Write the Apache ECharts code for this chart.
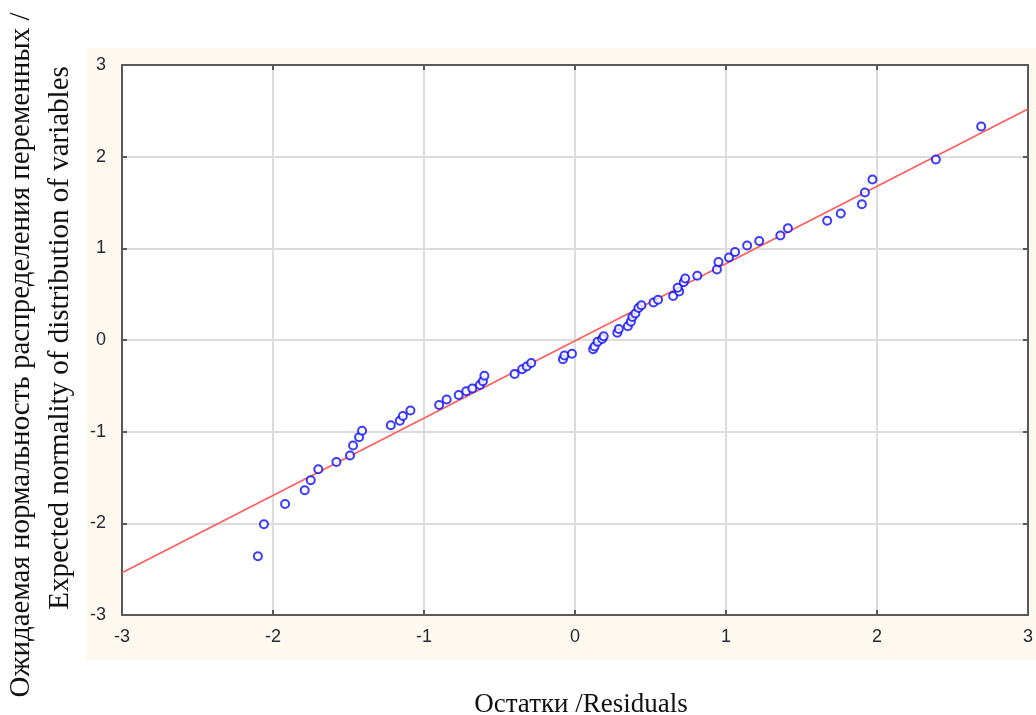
<!DOCTYPE html>
<html>
<head>
<meta charset="utf-8">
<script src="https://cdn.jsdelivr.net/npm/echarts@6/dist/echarts.min.js"></script>
<style>
  html, body { margin: 0; padding: 0; background: #ffffff; }
  #chart { width: 1036px; height: 715px; }
</style>
</head>
<body>
<div id="chart"></div>
<script>
// Normal probability plot of residuals
const residuals = [
  -2.10, -2.06, -1.92, -1.79, -1.75, -1.70, -1.58, -1.49, -1.47, -1.43,
  -1.41, -1.22, -1.16, -1.14, -1.09, -0.90, -0.85, -0.77, -0.72, -0.68,
  -0.63, -0.61, -0.60, -0.40, -0.35, -0.32, -0.29, -0.08, -0.07, -0.02,
   0.12,  0.13,  0.15,  0.18,  0.19,  0.28,  0.29,  0.35,  0.37,  0.38,
   0.40,  0.42,  0.44,  0.52,  0.55,  0.65,  0.69,  0.68,  0.72,  0.73,
   0.81,  0.94,  0.95,  1.02,  1.06,  1.14,  1.22,  1.36,  1.41,  1.67,
   1.76,  1.90,  1.92,  1.97,  2.39,  2.69
];
const expectedNormal = [
  -2.36, -2.01, -1.79, -1.64, -1.53, -1.41, -1.33, -1.26, -1.15, -1.06,
  -0.99, -0.93, -0.88, -0.83, -0.77, -0.71, -0.65, -0.60, -0.56, -0.53,
  -0.49, -0.45, -0.39, -0.37, -0.32, -0.29, -0.25, -0.21, -0.17, -0.15,
  -0.10, -0.07, -0.02,  0.01,  0.04,  0.08,  0.12,  0.15,  0.20,  0.25,
   0.29,  0.35,  0.38,  0.41,  0.44,  0.48,  0.53,  0.57,  0.63,  0.67,
   0.70,  0.77,  0.85,  0.90,  0.96,  1.03,  1.08,  1.14,  1.22,  1.30,
   1.38,  1.48,  1.61,  1.75,  1.97,  2.33
];
// Reference line end points
const fitLineX = [-3, 3];
const fitLineY = [-2.54, 2.52];
const axisTicks = [-3, -2, -1, 0, 1, 2, 3];

const xAxisTitle = 'Остатки /Residuals';
const yAxisTitleRu = 'Ожидаемая нормальность распределения переменных /';
const yAxisTitleEn = 'Expected normality of distribution of variables';

const points = residuals.map((x, i) => [x, expectedNormal[i]]);
const linePts = fitLineX.map((x, i) => [x, fitLineY[i]]);

const labelFont = { fontFamily: 'Liberation Sans, Arial, sans-serif', fontSize: 18, color: '#262a38' };
const titleFont = 'Liberation Serif, Times New Roman, serif';

const chart = echarts.init(document.getElementById('chart'), null, { renderer: 'canvas' });

const valueAxisBase = {
  type: 'value',
  min: axisTicks[0],
  max: axisTicks[axisTicks.length - 1],
  interval: 1,
  axisLine: { show: true, onZero: false, lineStyle: { color: '#595959', width: 2 } },
  axisTick: { show: true, inside: true, length: 5, lineStyle: { color: '#595959', width: 2 } },
  splitLine: { show: true, lineStyle: { color: '#dcdcdc', width: 2 } }
};

chart.setOption({
  backgroundColor: '#ffffff',
  animation: false,
  graphic: [
    {
      type: 'rect', z: -10, silent: true,
      shape: { x: 86, y: 48, width: 950, height: 612 },
      style: { fill: '#fdf9ee' }
    },
    {
      type: 'text', x: 581, y: 705,
      style: { text: xAxisTitle, font: '27px ' + titleFont, fill: '#111', textAlign: 'center', textVerticalAlign: 'middle' }
    },
    {
      type: 'text', rotation: Math.PI / 2, x: 21, y: 355,
      style: { text: yAxisTitleRu, font: '29px ' + titleFont, fill: '#111', textAlign: 'center', textVerticalAlign: 'middle' }
    },
    {
      type: 'text', rotation: Math.PI / 2, x: 60, y: 338,
      style: { text: yAxisTitleEn, font: '29px ' + titleFont, fill: '#111', textAlign: 'center', textVerticalAlign: 'middle' }
    }
  ],
  grid: {
    left: 122, right: 7, top: 65, bottom: 100,
    show: true, backgroundColor: '#ffffff', borderWidth: 0
  },
  xAxis: [
    Object.assign({}, valueAxisBase, {
      position: 'bottom',
      axisLabel: Object.assign({ margin: 13 }, labelFont)
    }),
    Object.assign({}, valueAxisBase, {
      position: 'top',
      axisLabel: { show: false },
      splitLine: { show: false }
    })
  ],
  yAxis: [
    Object.assign({}, valueAxisBase, {
      position: 'left',
      axisLabel: Object.assign({ margin: 16 }, labelFont)
    }),
    Object.assign({}, valueAxisBase, {
      position: 'right',
      axisLabel: { show: false },
      splitLine: { show: false }
    })
  ],
  series: [
    {
      type: 'line',
      data: linePts,
      symbol: 'none',
      lineStyle: { color: '#ff5c5c', width: 1.6 },
      z: 2
    },
    {
      type: 'scatter',
      data: points,
      symbol: 'emptyCircle',
      symbolSize: 8,
      itemStyle: { color: '#0a0aff', borderWidth: 2.2 },
      z: 3
    }
  ]
});
</script>
</body>
</html>
